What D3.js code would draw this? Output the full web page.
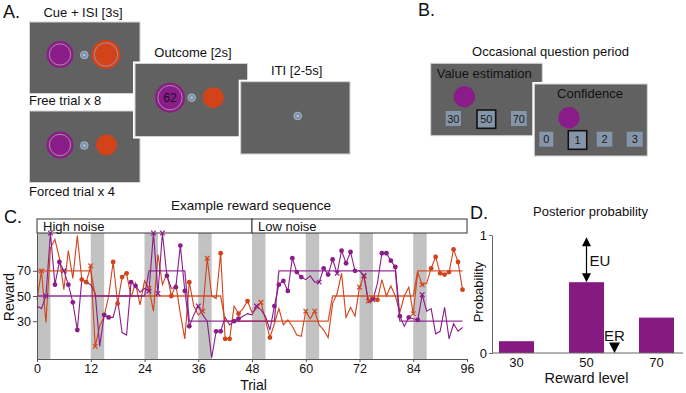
<!DOCTYPE html>
<html>
<head>
<meta charset="utf-8">
<script src="https://cdn.jsdelivr.net/npm/d3@7"></script>
<style>
  body { margin: 0; background: #fff; }
  svg { display: block; font-family: "Liberation Sans", Arial, sans-serif; }
</style>
</head>
<body>
<svg id="fig" width="686" height="393"></svg>
<script>
// ---- data ----
var trialTicks = [0, 12, 24, 36, 48, 60, 72, 84, 96];
var rewardTicks = [30, 50, 70];
var forcedStarts = [0, 12, 24, 36, 48, 60, 72, 84];   // grey forced blocks, 3 trials each
var noiseBlocks = ["High noise", "Low noise"];
var noiseStarts = [0, 48];

var orangeReward = [47,70,29,88,95,80,55,86,64,98, 63,61,74,10,26,34,50,77,44,65,
  68,49,60,43,62,56,38,83,59,68, 50,59,36,16,61,42,35,38,80,50,
  48,84,16,16,42,36,40,46,37,40, 45,31,17,28,40,27,31,26,19,18,
  38,32,38,27,23,17,44,52,68,33, 41,34,57,66,46,48,47,63,50,58,
  50,37,50,57,36,69,59,60,72,81, 68,67,69,87,77,55];
var orangeDots = [10,11,17,18,19,20,30,34,41,42,43,45,47,52,75,76,88,89,90,91,92,93,94,95];
var orangeCrosses = [1,12,13,25,37,38,50,60,62,72,73,74,84,86];

var purpleReward = [42,40,50,100,59,77,70,59,45,23, 63,61,59,52,10,35,33,33,47,21,
  19,61,58,53,56,54,100,52,100,66, 56,57,90,54,26,35,42,35,30,1,
  22,22,33,27,30,32,34,36,35,42, 39,34,23,42,59,62,54,80,69,65,
  63,66,61,61,72,67,79,68,86,76, 85,70,70,66,45,47,60,84,84,78,
  73,34,26,33,32,31,51,38,40,20, 22,41,16,28,22,25];
var purpleDots = [4,5,7,8,9,15,16,21,22,29,31,32,33,34,40,41,44,45,53,54,55,56,57,58,59,64,65,66,68,69,70,71,77,78,79,80,81,83,85];
var purpleCrosses = [2,3,6,25,26,27,28,36,49,63,67,73,75,86];

// true mean: [first trial, last trial, level]
var orangeMean = [[0,12,70],[13,41,50],[42,65,30],[66,84,50],[85,95,70]];
var purpleMean = [[0,24,50],[25,33,70],[34,53,30],[54,80,70],[81,95,30]];

var levels = [30, 50, 70];
var posterior = [0.1, 0.6, 0.3];
var euRange = [0.6, 0.98];
var expectedReward = 58;

var purple = "#8a1d8a", orange = "#d2431a", barPurple = "#851a80", screenGrey = "#616161";

var svg = d3.select("#fig");

function label(x, y, txt, size, anchor) {
  return svg.append("text").attr("x", x).attr("y", y).attr("font-size", size)
    .attr("text-anchor", anchor || "start").attr("fill", "#111").text(txt);
}

// ---------- panels A and B : task screens ----------
function screen(x, y, w, h) {
  svg.append("rect").attr("x", x - 2).attr("y", y - 2).attr("width", w + 4).attr("height", h + 4).attr("fill", "#fff");
  svg.append("rect").attr("x", x).attr("y", y).attr("width", w).attr("height", h)
    .attr("fill", screenGrey).attr("stroke", "#d4d4d4").attr("stroke-width", 1);
}
function option(cx, cy, r, col, ring) {
  svg.append("circle").attr("cx", cx).attr("cy", cy).attr("r", r).attr("fill", col);
  if (ring) svg.append("circle").attr("cx", cx).attr("cy", cy).attr("r", r - 2.8)
    .attr("fill", "none").attr("stroke", "#a8909f").attr("stroke-width", 1);
}
function fixation(cx, cy) {
  svg.append("circle").attr("cx", cx).attr("cy", cy).attr("r", 3.8).attr("fill", "#7d8fa6").attr("stroke", "#a9b9cc").attr("stroke-width", 1);
  svg.append("circle").attr("cx", cx).attr("cy", cy).attr("r", 1.3).attr("fill", "#b7c4d4");
}
function choiceBox(x, y, w, h, txt, picked) {
  svg.append("rect").attr("x", x).attr("y", y).attr("width", w).attr("height", h)
    .attr("fill", "#8696aa").attr("stroke", picked ? "#111" : "none").attr("stroke-width", 1.6);
  svg.append("text").attr("x", x + w / 2).attr("y", y + h / 2 + 4).attr("text-anchor", "middle")
    .attr("font-size", 11).attr("fill", "#1a1a1a").text(txt);
}

label(3, 18, "A.", 18);
label(83, 16.5, "Cue + ISI [3s]", 13, "middle");
screen(29.5, 22, 110.5, 71.5);
option(60, 54.5, 13.5, purple, true); fixation(84.3, 55); option(106, 54.5, 14.5, orange, true);
label(29, 105, "Free trial x 8", 13);
screen(29.5, 111, 110.5, 71.5);
option(60, 145, 13.5, purple, true); fixation(84.3, 145.5); option(106.5, 145, 10.5, orange, false);
label(29, 195.5, "Forced trial x 4", 13);
label(193, 57, "Outcome [2s]", 13, "middle");
screen(135, 63.5, 112.5, 73);
option(170, 97.7, 15, purple, true); fixation(191.7, 97.7); option(213.3, 97.7, 10.5, orange, false);
svg.append("text").attr("x", 170).attr("y", 102).attr("text-anchor", "middle").attr("font-size", 12)
  .attr("fill", "#1a0a1a").text("62");
label(296.7, 74.5, "ITI [2-5s]", 13, "middle");
screen(240.7, 81.7, 109.3, 72.3);
fixation(297.7, 116);

label(418, 16, "B.", 18);
label(550.5, 56, "Occasional question period", 13, "middle");
screen(430.7, 63.3, 111.6, 72.4);
label(436.7, 77.5, "Value estimation", 13);
option(464.3, 96.7, 10.7, purple, false);
choiceBox(445.7, 111, 15.3, 15, "30", false);
choiceBox(477, 110, 18.7, 18.3, "50", true);
choiceBox(511, 111, 15.7, 15, "70", false);
screen(534.3, 84, 113, 72);
label(590, 97.5, "Confidence", 13, "middle");
option(569, 117.7, 10.7, purple, false);
choiceBox(539.3, 131.7, 14, 15, "0", false);
choiceBox(568.3, 130.7, 18.4, 18.6, "1", true);
choiceBox(596.7, 131.7, 15.6, 15, "2", false);
choiceBox(626.7, 131.7, 16, 15, "3", false);

// ---------- panel C : reward sequence ----------
var xC = d3.scaleLinear().domain([0, 96]).range([37, 467]);
var yC = d3.scaleLinear().domain([0, 100]).range([359, 233]);
var gC = svg.append("g");

gC.selectAll("rect.forced").data(forcedStarts).enter().append("rect")
  .attr("class", "forced")
  .attr("x", function(d) { return xC(d); })
  .attr("width", function(d) { return xC(d + 3) - xC(d); })
  .attr("y", yC(100)).attr("height", yC(0) - yC(100))
  .attr("fill", "#c2c2c2");

gC.selectAll("rect.noise").data(noiseBlocks).enter().append("rect")
  .attr("class", "noise")
  .attr("x", function(d, i) { return xC(noiseStarts[i]); })
  .attr("width", function(d, i) { return xC(i + 1 < noiseStarts.length ? noiseStarts[i + 1] : 96) - xC(noiseStarts[i]); })
  .attr("y", 219).attr("height", 14)
  .attr("fill", "#fff").attr("stroke", "#333").attr("stroke-width", 1);
gC.selectAll("text.noise").data(noiseBlocks).enter().append("text")
  .attr("x", function(d, i) { return xC(noiseStarts[i]) + 6; })
  .attr("y", 230.5).attr("font-size", 13).attr("fill", "#111")
  .text(function(d) { return d; });

var rewardLine = d3.line().x(function(d, i) { return xC(i); }).y(function(d) { return yC(d); });
gC.append("path").attr("d", rewardLine(orangeReward)).attr("fill", "none").attr("stroke", orange).attr("stroke-width", 1.1);
gC.append("path").attr("d", rewardLine(purpleReward)).attr("fill", "none").attr("stroke", purple).attr("stroke-width", 1.1);

function meanPoints(segs) {
  var pts = [];
  segs.forEach(function(s) { pts.push([s[0], s[2]]); pts.push([s[1], s[2]]); });
  return pts;
}
var meanLine = d3.line().x(function(d) { return xC(d[0]); }).y(function(d) { return yC(d[1]); });
gC.append("path").attr("d", meanLine(meanPoints(orangeMean))).attr("fill", "none").attr("stroke", orange).attr("stroke-width", 1.3).attr("opacity", 0.9);
gC.append("path").attr("d", meanLine(meanPoints(purpleMean))).attr("fill", "none").attr("stroke", purple).attr("stroke-width", 1.3).attr("opacity", 0.9);

function drawMarkers(idx, vals, col) {
  gC.selectAll(null).data(idx.dots).enter().append("circle")
    .attr("cx", function(t) { return xC(t); }).attr("cy", function(t) { return yC(vals[t]); })
    .attr("r", 2.4).attr("fill", col);
  gC.selectAll(null).data(idx.crosses).enter().append("path")
    .attr("d", function(t) {
      var x = xC(t), y = yC(vals[t]), s = 2.3;
      return "M" + (x - s) + "," + (y - s) + "L" + (x + s) + "," + (y + s) + "M" + (x - s) + "," + (y + s) + "L" + (x + s) + "," + (y - s);
    })
    .attr("stroke", col).attr("stroke-width", 1.2);
}
drawMarkers({dots: orangeDots, crosses: orangeCrosses}, orangeReward, orange);
drawMarkers({dots: purpleDots, crosses: purpleCrosses}, purpleReward, purple);

var axC = gC.append("g").attr("transform", "translate(0," + yC(0) + ")")
  .call(d3.axisBottom(xC).tickValues(trialTicks).tickSize(3).tickSizeOuter(0).tickPadding(2));
var ayC = gC.append("g").attr("transform", "translate(" + xC(0) + ",0)")
  .call(d3.axisLeft(yC).tickValues(rewardTicks).tickSize(4).tickSizeOuter(0).tickPadding(2));
[axC, ayC].forEach(function(a) {
  a.selectAll("text").attr("font-size", 12.5).attr("font-family", "Liberation Sans, Arial, sans-serif").attr("fill", "#111");
  a.selectAll("path, line").attr("stroke", "#555");
});

label(4, 223, "C.", 18);
label(251, 209.5, "Example reward sequence", 13.5, "middle");
label(253.5, 390, "Trial", 14, "middle");
svg.append("text").attr("transform", "translate(14,297) rotate(-90)").attr("text-anchor", "middle")
  .attr("font-size", 14).attr("fill", "#111").text("Reward");

// ---------- panel D : posterior ----------
var xD = d3.scaleBand().domain(levels).range([492, 681]).paddingInner(0.5).paddingOuter(0.1);
var yD = d3.scaleLinear().domain([0, 1]).range([353, 235]);
var gD = svg.append("g");

gD.selectAll("rect.bar").data(levels).enter().append("rect")
  .attr("class", "bar")
  .attr("x", function(d) { return xD(d); })
  .attr("width", xD.bandwidth())
  .attr("y", function(d, i) { return yD(posterior[i]); })
  .attr("height", function(d, i) { return yD(0) - yD(posterior[i]); })
  .attr("fill", barPurple);

var axD = gD.append("g").attr("transform", "translate(0," + yD(0) + ")")
  .call(d3.axisBottom(xD).tickSize(0).tickSizeOuter(0).tickPadding(5));
axD.select(".domain").attr("d", "M492,0H683");
var ayD = gD.append("g").attr("transform", "translate(492,0)")
  .call(d3.axisLeft(yD).tickValues([0, 1]).tickFormat(d3.format("d")).tickSize(3).tickSizeOuter(0).tickPadding(2));
[axD, ayD].forEach(function(a) {
  a.selectAll("text").attr("font-size", 13).attr("font-family", "Liberation Sans, Arial, sans-serif").attr("fill", "#111");
  a.selectAll("path, line").attr("stroke", "#666");
});

// EU double arrow over the 50 bar, ER marker at expected reward
var levelPos = d3.scaleLinear().domain([levels[0], levels[levels.length - 1]])
  .range([xD(levels[0]) + xD.bandwidth() / 2, xD(levels[levels.length - 1]) + xD.bandwidth() / 2]);
var euX = xD(50) + xD.bandwidth() / 2;
var yTop = yD(euRange[1]), yBot = yD(euRange[0]);
gD.append("line").attr("x1", euX).attr("x2", euX).attr("y1", yTop + 8).attr("y2", yBot - 8).attr("stroke", "#000").attr("stroke-width", 1.2);
gD.append("path").attr("d", "M" + euX + "," + yTop + "l-4.5,9h9z").attr("fill", "#000");
gD.append("path").attr("d", "M" + euX + "," + yBot + "l-4.5,-9h9z").attr("fill", "#000");
label(euX + 3, yD(0.78) + 5.5, "EU", 15);
var erX = levelPos(expectedReward);
gD.append("path").attr("d", "M" + erX + "," + yD(0) + "l-5.5,-10.5h11z").attr("fill", "#000");
label(erX, 340.5, "ER", 15, "middle");

label(470, 219, "D.", 18);
label(590.5, 216, "Posterior probability", 13, "middle");
label(586.5, 383, "Reward level", 14.5, "middle");
svg.append("text").attr("transform", "translate(482.5,292) rotate(-90)").attr("text-anchor", "middle")
  .attr("font-size", 13).attr("fill", "#111").text("Probability");
</script>
</body>
</html>
